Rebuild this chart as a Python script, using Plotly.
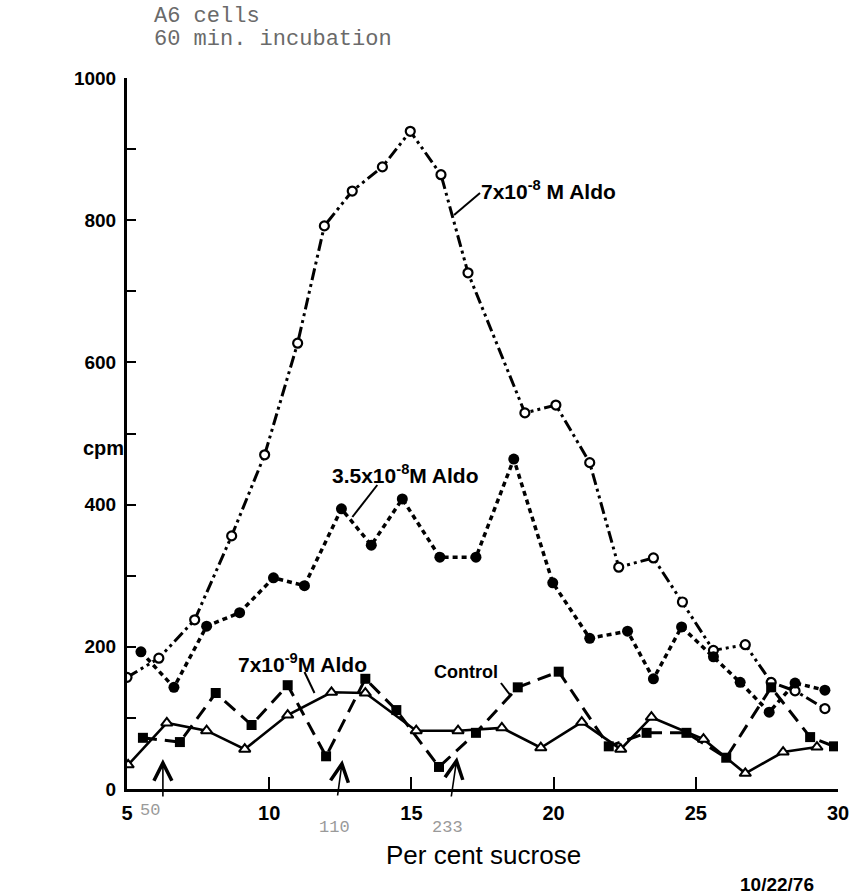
import plotly.graph_objects as go

# ---- data ----
x_aldo_7e8 = [5.0, 6.12, 7.38, 8.68, 9.84, 11.0, 11.94, 12.92, 13.98, 14.96, 16.04, 16.99,
              18.99, 20.08, 21.27, 22.29, 23.51, 24.53, 25.62, 26.74, 27.65, 28.49, 29.54]
y_aldo_7e8 = [157, 184, 238, 356, 470, 627, 792, 841, 875, 925, 864, 726,
              529, 540, 459, 312, 325, 263, 195, 203, 150, 138, 113]

x_aldo_35e8 = [5.49, 6.65, 7.8, 8.96, 10.15, 11.24, 12.54, 13.59, 14.68, 16.0, 17.27,
               18.6, 19.97, 21.27, 22.6, 23.51, 24.5, 25.62, 26.56, 27.58, 28.49, 29.54]
y_aldo_35e8 = [193, 143, 229, 248, 297, 286, 394, 343, 408, 326, 326,
               464, 290, 212, 222, 155, 228, 186, 150, 108, 149, 139]

x_control = [5.56, 6.86, 8.12, 9.38, 10.65, 12.0, 13.38, 14.47, 15.97, 17.27,
             18.74, 20.18, 21.94, 23.27, 24.67, 26.07, 27.65, 29.02, 29.86]
y_control = [72, 66, 135, 90, 146, 46, 155, 111, 31, 79,
             143, 165, 60, 79, 79, 44, 143, 73, 60]

x_aldo_7e9 = [5.04, 6.4, 7.8, 9.14, 10.65, 12.19, 13.38, 15.17, 16.64,
              18.18, 19.55, 20.99, 22.36, 23.44, 25.27, 26.74, 28.07, 29.26]
y_aldo_7e9 = [34, 93, 82, 56, 104, 136, 135, 82, 82,
              86, 58, 94, 56, 101, 70, 22, 52, 59]

x_ticks = [5, 10, 15, 20, 25, 30]
y_ticks = list(range(0, 1001, 100))
y_ticktext = [str(v) if v % 200 == 0 else "" for v in y_ticks]

# ---- layout geometry (pixels) ----
W, H = 861, 895
L, R, T, B = 127, 21, 78, 106
pw, ph = W - L - R, H - T - B


def px_(px):
    return (px - L) / pw


def py_(py):
    return (T + ph - py) / ph


fig = go.Figure()

fig.add_trace(go.Scatter(
    x=x_aldo_7e8, y=y_aldo_7e8, mode="lines+markers", name="7x10-8 M Aldo",
    line=dict(color="black", width=3, dash="12px,4px,3px,4px,3px,4px"),
    marker=dict(symbol="circle", size=9, color="white", line=dict(width=2.2, color="black")),
))
fig.add_trace(go.Scatter(
    x=x_aldo_35e8, y=y_aldo_35e8, mode="lines+markers", name="3.5x10-8 M Aldo",
    line=dict(color="black", width=3.5, dash="5px,4px"),
    marker=dict(symbol="circle", size=11, color="black"),
))
fig.add_trace(go.Scatter(
    x=x_control, y=y_control, mode="lines+markers", name="Control",
    line=dict(color="black", width=3, dash="14px,8px"),
    marker=dict(symbol="square", size=10, color="black"),
))
fig.add_trace(go.Scatter(
    x=x_aldo_7e9, y=y_aldo_7e9, mode="lines+markers", name="7x10-9 M Aldo",
    line=dict(color="black", width=2.6),
    marker=dict(symbol="triangle-up", size=10, color="white", line=dict(width=2, color="black")),
))

sans = "Liberation Sans, Arial"
lab_font = dict(family=sans, size=21, color="black", weight="bold")
mono = dict(family="Liberation Mono, Courier New", size=22, color="#6a6a6a")
faint = dict(family="Liberation Mono, Courier New", size=17, color="#9a9a9a")


def note(px, py, text, font, xanchor="left"):
    return dict(xref="paper", yref="paper", x=px_(px), y=py_(py), text=text,
                xanchor=xanchor, yanchor="middle", showarrow=False, font=font)


annotations = [
    note(480, 190, "7x10<sup>-8</sup> M Aldo", lab_font),
    note(331, 474, "3.5x10<sup>-8</sup>M Aldo", lab_font),
    note(236, 663, "7x10<sup>-9</sup>M Aldo", lab_font),
    note(433, 672, "Control", dict(family=sans, size=18, color="black", weight="bold")),
    note(103, 448, "cpm", dict(family=sans, size=20, color="black", weight="bold"), "center"),
    note(485, 855, "Per cent sucrose", dict(family=sans, size=26, color="black")),
    note(779, 884, "10/22/76", dict(family=sans, size=19, color="black", weight="bold"), "center"),
    note(152, 16, "A6 cells", mono),
    note(152, 39, "60 min. incubation", mono),
    note(150, 811, "50", faint, "center"),
    note(335, 827, "110", faint, "center"),
    note(448, 827, "233", faint, "center"),
]
annotations[5]["xanchor"] = "center"

# marker arrows under the axis
for tip, tail in [((163, 759), (163, 798)), ((343, 760), (338, 797)), ((458, 757), (452, 798))]:
    annotations.append(dict(xref="paper", yref="paper", x=px_(tip[0]), y=py_(tip[1]),
                            ax=tail[0] - tip[0], ay=tail[1] - tip[1],
                            text="", showarrow=True, arrowhead=5, arrowsize=2.2, arrowwidth=1.6,
                            arrowcolor="black"))

shapes = []
for (a, b) in [((455, 215), (481, 193)), ((353, 517), (378, 485)),
               ((305, 672), (315, 693)), ((502, 683), (512, 696))]:
    shapes.append(dict(type="line", xref="paper", yref="paper", x0=px_(a[0]), y0=py_(a[1]),
                       x1=px_(b[0]), y1=py_(b[1]), line=dict(color="black", width=2)))

fig.update_layout(
    width=W, height=H,
    margin=dict(l=L, r=R, t=T, b=B),
    paper_bgcolor="white", plot_bgcolor="white",
    showlegend=False,
    annotations=annotations,
    shapes=shapes,
    xaxis=dict(range=[5, 30], tickvals=x_ticks, ticktext=[str(v) for v in x_ticks],
               ticks="inside", ticklen=12, tickwidth=2, tickcolor="black",
               showline=True, linecolor="black", linewidth=3, showgrid=False, zeroline=False,
               tickfont=dict(family=sans, size=20, color="black", weight="bold"),
               ticklabelstandoff=4),
    yaxis=dict(range=[0, 1000], tickvals=y_ticks, ticktext=y_ticktext,
               ticks="inside", ticklen=9, tickwidth=2, tickcolor="black",
               showline=True, linecolor="black", linewidth=3, showgrid=False, zeroline=False,
               tickfont=dict(family=sans, size=19, color="black", weight="bold"),
               ticklabelstandoff=4),
)

fig.write_html("out.html")
